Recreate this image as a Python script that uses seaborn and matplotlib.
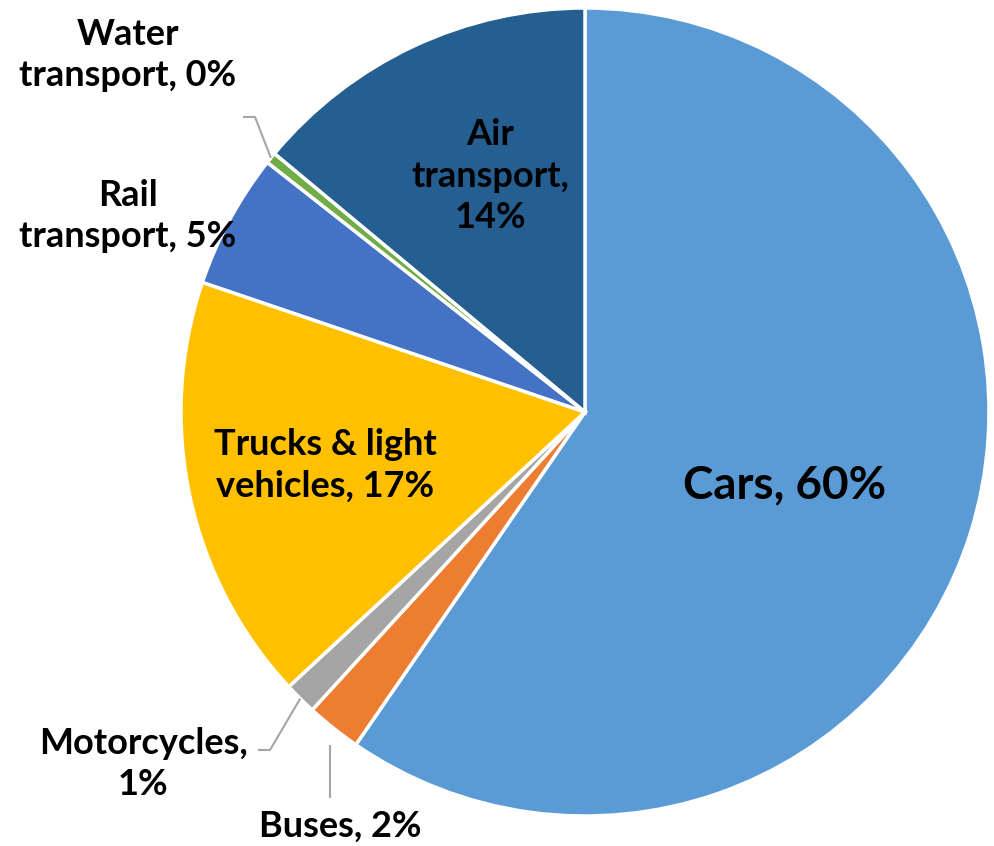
import numpy as np
import matplotlib
matplotlib.use("Agg")
import matplotlib.pyplot as plt
import seaborn as sns

categories = ["Cars", "Buses", "Motorcycles", "Trucks & light vehicles",
              "Rail transport", "Water transport", "Air transport"]
values = [59.6, 2.2, 1.3, 17.1, 5.4, 0.45, 13.95]
colors = ["#5B9BD5", "#ED7D31", "#A5A5A5", "#FFC000", "#4472C4", "#70AD47", "#255E91"]
label_lines = [
    "Cars, {p}%",
    "Buses, {p}%",
    "Motorcycles,\n{p}%",
    "Trucks & light\nvehicles, {p}%",
    "Rail\ntransport, {p}%",
    "Water\ntransport, {p}%",
    "Air\ntransport,\n{p}%",
]

sns.set_theme(style="white")
plt.rcParams['font.family'] = ['Lato', 'DejaVu Sans']

W, H = 995, 846
fig = plt.figure(figsize=(W / 100, H / 100), dpi=100)
ax = fig.add_axes([0, 0, 1, 1])
ax.set_xlim(0, W)
ax.set_ylim(0, H)
ax.set_axis_off()

cx, cy, R = 585, H - 412, 404
palette = sns.color_palette(colors)
wedges, _ = ax.pie(values, colors=palette, startangle=90, counterclock=False,
                   center=(cx, cy), radius=R,
                   wedgeprops=dict(edgecolor="white", linewidth=2.5))
ax.set_aspect("equal")
ax.set_xlim(0, W)
ax.set_ylim(0, H)

total = sum(values)
pcts = [int(round(v / total * 100)) for v in values]

# label positions in pixel coordinates (top-left origin), font size
label_pos = [
    (785, 485, 33),
    (340, 826, 26),
    (143, 764, 26),
    (325, 465, 26),
    (128, 216, 26),
    (128, 55, 26),
    (490, 176, 26),
]
for txt, p, (lx, ly, fs) in zip(label_lines, pcts, label_pos):
    ax.text(lx, H - ly, txt.format(p=p), ha="center", va="center",
            fontsize=fs, fontweight="bold", color="black", linespacing=1.32)

def arc_point(w, frac=1.0):
    ang = np.deg2rad((w.theta1 + w.theta2) / 2)
    return cx + R * frac * np.cos(ang), cy + R * frac * np.sin(ang)

leaders = {
    5: [(243, 117), (255, 117)],
    2: [(258, 750), (270, 750)],
}
for idx, pts in leaders.items():
    ex, ey = arc_point(wedges[idx], 1.0)
    xs = [p[0] for p in pts] + [ex]
    ys = [H - p[1] for p in pts] + [ey]
    ax.plot(xs, ys, color="#A6A6A6", linewidth=1.5, solid_capstyle="butt")
# buses: vertical leader
ax.plot([330, 330], [H - 798, H - 745], color="#A6A6A6", linewidth=1.5,
        solid_capstyle="butt")

fig.savefig("out.png", dpi=100, facecolor="white")
